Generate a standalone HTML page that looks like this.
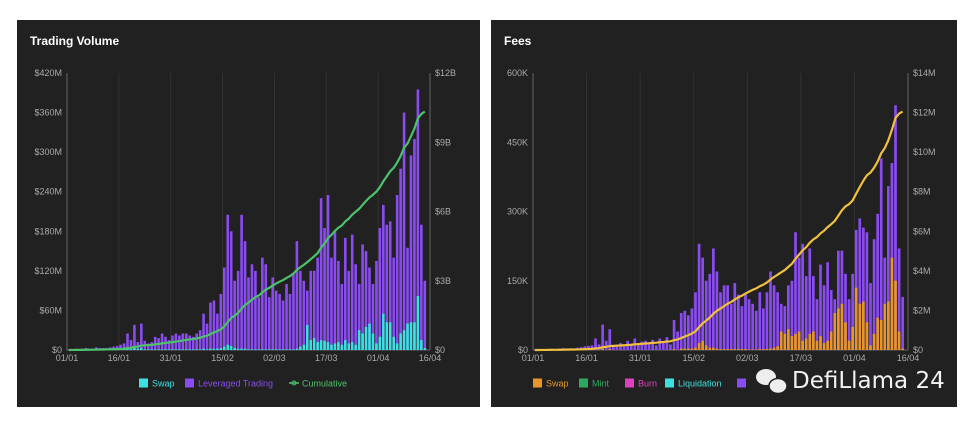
<!DOCTYPE html>
<html><head><meta charset="utf-8">
<style>
html,body{margin:0;padding:0;background:#fff;width:972px;height:426px;overflow:hidden;font-family:"Liberation Sans",sans-serif}
.panel{position:absolute;background:#212121;top:20px;height:387px}
.title{position:absolute;color:#fff;font-weight:bold;font-size:12px}
svg{position:absolute;left:0;top:0}
.wm{position:absolute;left:792px;top:368px;color:#f2f2f2;font-size:23px;font-family:"DejaVu Sans","Liberation Sans",sans-serif}
</style></head><body>
<div class="panel" style="left:17px;width:463px"></div>
<div class="panel" style="left:491px;width:466px"></div>
<div class="title" style="left:30px;top:34px">Trading Volume</div>
<div class="title" style="left:504px;top:34px">Fees</div>
<svg id="chart" width="972" height="426"></svg>
<div class="wm">DefiLlama 24</div>
<script>
const dateLabels = ["01/01","16/01","31/01","15/02","02/03","17/03","01/04","16/04"];
const volLev = [1,1,2,1,2,3,2,2,4,3,3,3,4,5,6,8,10,25,15,38,12,40,14,10,12,20,18,25,20,15,22,25,22,25,25,22,20,25,30,55,40,72,75,55,85,125,205,180,105,120,205,165,110,130,120,80,140,130,80,110,90,85,75,100,85,115,165,120,105,90,120,120,140,230,185,235,140,180,135,100,170,120,175,130,100,160,150,125,100,135,185,220,190,195,140,235,275,360,155,295,320,395,190,105];
const volSwap = [0,0,0,0,0,0,0,0,0,0,0,0,0,0,0,0,1,2,2,3,2,3,1,1,1,1,1,1,1,1,1,1,1,1,1,1,1,1,1,2,1,2,2,2,3,5,8,6,3,2,2,2,1,1,1,1,1,1,1,1,1,1,1,1,1,1,2,5,8,38,15,18,12,15,14,12,8,10,12,8,15,10,12,8,30,25,35,40,25,10,20,55,42,42,20,10,25,30,40,42,42,82,15,3];
const feeOther = [1,1,2,1,2,3,2,3,4,3,4,3,5,6,8,9,10,25,12,55,20,45,10,12,15,8,20,10,25,12,18,20,15,22,10,25,15,28,12,65,40,80,85,75,90,125,230,200,150,165,220,170,125,140,140,100,145,120,95,120,110,100,85,125,90,125,170,140,125,100,95,140,150,255,200,230,160,220,160,110,185,140,190,130,110,215,215,165,110,165,260,285,265,255,145,240,295,415,200,355,405,530,220,115];
const feeSwap = [0,0,0,0,0,0,0,0,0,0,0,0,0,0,0,0,0,0,0,3,0,2,0,0,0,0,0,0,0,0,0,0,0,0,0,0,0,0,0,2,0,3,3,3,3,5,15,20,10,5,5,3,2,2,2,2,2,2,2,2,1,1,1,2,2,2,3,5,8,40,35,45,30,35,40,20,25,35,40,20,30,15,20,40,80,90,100,60,20,50,135,100,105,60,10,35,70,65,100,105,200,150,40,3];
const volLeftTicks = ["$0","$60M","$120M","$180M","$240M","$300M","$360M","$420M"];
const volRightTicks = ["$0","$3B","$6B","$9B","$12B"];
const feeLeftTicks = ["$0","150K","300K","450K","600K"];
const feeRightTicks = ["$0","$2M","$4M","$6M","$8M","$10M","$12M","$14M"];

const NS="http://www.w3.org/2000/svg", svg=document.getElementById('chart');
function mk(tag,attrs,parent){const e=document.createElementNS(NS,tag);for(const k in attrs)e.setAttribute(k,attrs[k]);(parent||svg).appendChild(e);return e;}
function txt(x,y,s,anchor,fill,size){const t=mk('text',{x:x,y:y,'text-anchor':anchor,fill:fill,'font-size':size,'font-family':'Liberation Sans, sans-serif'});t.textContent=s;return t;}

function drawChart(o){
  const x0=o.x0,x1=o.x1,yB=350,yT=73,n=o.a.length,days=105;
  const xs=d=>x0+(x1-x0)*d/days;
  const yl=v=>yB-(yB-yT)*v/o.lmax;
  const yr=v=>yB-(yB-yT)*v/o.rmax;
  const g=mk('g',{});
  
  
  dateLabels.forEach((l,i)=>{
    const x=xs(i*15);
    const gl=mk('line',{x1:x,x2:x,y1:yT,y2:yB,stroke:'#333','stroke-width':1},g);
    
    
    const t=txt(x,361,l,'middle','#aaa',9);g.appendChild(t);
    
    
  });
  mk('line',{x1:x0,x2:x0,y1:yT,y2:yB,stroke:'#666'},g);
  mk('line',{x1:x1,x2:x1,y1:yT,y2:yB,stroke:'#666'},g);
  mk('line',{x1:x0,x2:x1,y1:yB,y2:yB,stroke:'#666'},g);
  o.lt.forEach((l,i)=>{const y=yB-(yB-yT)*i/(o.lt.length-1);
    const t=txt(x0-5,y+3,l,'end','#aaa',9);g.appendChild(t);
    
    });
  o.rt.forEach((l,i)=>{const y=yB-(yB-yT)*i/(o.rt.length-1);
    const t=txt(x1+5,y+3,l,'start','#aaa',9);g.appendChild(t);
    
    });
  const bw=(x1-x0)/days*0.75;
  let cum=0;const pts=[];
  for(let i=0;i<n;i++){
    const x=xs(i+0.5)-bw/2;
    const ho=yB-yl(o.a[i]), hs=yB-yl(o.b[i]);
    const r2=mk('rect',{x:x,y:yB-ho,width:bw,height:ho,fill:'#8a4cf0'},g);
    
    
    const r1=mk('rect',{x:x,y:yB-hs,width:bw,height:hs,fill:o.cb},g);
    
    
    cum+=(o.a[i]+o.b[i])*o.cf;
    pts.push(xs(i+0.5)+','+yr(cum));
  }
  const pl=mk('polyline',{points:pts.join(' '),fill:'none',stroke:o.cl,'stroke-width':2.2},g);
  
  
}
drawChart({name:'trading-volume-chart',x0:67,x1:430,a:volLev,b:volSwap,lmax:420,rmax:12,cf:0.001*0.93,lt:volLeftTicks,rt:volRightTicks,cb:'#3de0e0',cl:'#4cc26a',bn:'swap'});
drawChart({name:'fees-chart',x0:533,x1:908,a:feeOther,b:feeSwap,lmax:600,rmax:14,cf:0.001*0.87,lt:feeLeftTicks,rt:feeRightTicks,cb:'#e8962a',cl:'#f0c040',bn:'swap'});

function legend(x,y,color,label,tcolor,kind){
  const g=mk('g',{});
  
  
  if(kind==='line'){mk('line',{x1:x,x2:x+10,y1:y,y2:y,stroke:color,'stroke-width':1.5},g);mk('circle',{cx:x+5,cy:y,r:2,fill:'none',stroke:color},g);}
  else mk('rect',{x:x,y:y-4.5,width:9,height:9,fill:color},g);
  g.appendChild(txt(x+13,y+3.5,label,'start',tcolor,9));
}
legend(139,383,'#3de0e0','Swap','#3de0e0');
legend(185,383,'#8a4cf0','Leveraged Trading','#8a4cf0');
legend(289,383,'#4cc26a','Cumulative','#4cc26a','line');
legend(533,383,'#e8962a','Swap','#e8962a');
legend(579,383,'#2fa860','Mint','#2fa860');
legend(625,383,'#e040c0','Burn','#e040c0');
legend(665,383,'#3de0e0','Liquidation','#3de0e0');
legend(737,383,'#8a4cf0','','#8a4cf0');
const ic=mk('g',{});


mk('ellipse',{cx:766,cy:377,rx:10,ry:8,fill:'#eee'},ic);
mk('ellipse',{cx:778,cy:386,rx:9,ry:7.5,fill:'#eee',stroke:'#212121','stroke-width':1.5},ic);
</script>
</body></html>
